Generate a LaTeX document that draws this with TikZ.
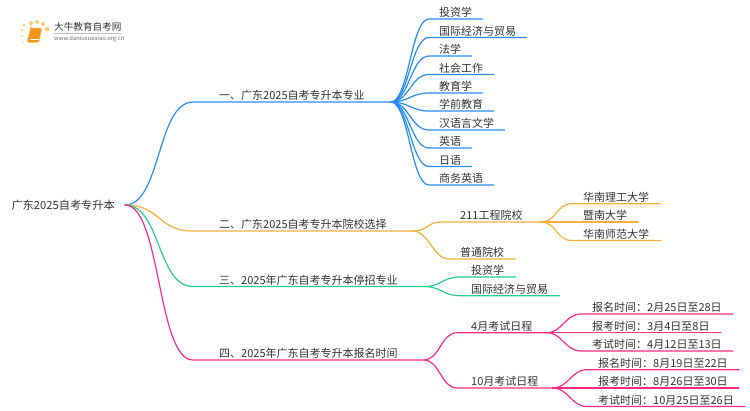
\documentclass[tikz,border=0pt]{standalone}
\usepackage{fontspec}
\setmainfont{Noto Sans CJK SC}
\usepackage{tikz}
\definecolor{Ink}{RGB}{51, 51, 51}
\definecolor{Blue}{RGB}{41, 140, 245}
\definecolor{Amber}{RGB}{245, 176, 60}
\definecolor{Jade}{RGB}{40, 205, 135}
\definecolor{Rose}{RGB}{250, 45, 130}
\definecolor{Sun}{RGB}{250, 205, 110}
\definecolor{Cover}{RGB}{240, 150, 30}
\tikzset{
    topic/.style={anchor=south west, inner xsep=#1, inner ysep=1.2pt, font=\fontsize{11}{13}\selectfont, text=Ink},
    link/.style={line width=1.2pt, line cap=round},
    sunray/.style={circle, fill=Sun, inner sep=0pt, minimum size=#1}
}

\begin{document}
\begin{tikzpicture}[x=1pt, y=-1pt]
    \useasboundingbox (0,0) rectangle (750,410);

    % logo
    \foreach \n/\x/\y/\s in {a/24/25/3pt, b/31/23/4pt, c/37/22/4pt, d/43/24/4pt, e/47/29/4.5pt, f/22/30/2.5pt, g/22/36/2pt, h/23/42/1.5pt}
    {
    \node[sunray=\s] (sun\n) at (\x,\y) {};
    }
    \draw[fill=Cover, draw=Sun, rounded corners=1.5pt, line width=0.8pt] (30.5,28) to (42,28) to (39,42.5) to (27,42.5) to cycle;
    \draw[white, line width=0.5pt] (30,39.5) to (38.5,39.5);
    \node[anchor=west, inner sep=0pt, font=\fontsize{9.6}{11}\selectfont, text=Ink] (logoname) at (54,27) {大牛教育自考网};
    \draw[black!25, line width=0.5pt] (54,33.5) to (121,33.5);
    \node[anchor=west, inner sep=0pt, font=\fontsize{5.8}{7}\selectfont, text=black!60] (logourl) at (54,39) {www.daniuxuexiao.org.cn};

    % root
    \node[anchor=east, inner xsep=10pt, inner ysep=0pt, font=\fontsize{11.2}{13}\selectfont, text=Ink] (root) at (125,205) {广东2025自考专升本};

    % branches
    \foreach \n/\y/\c/\t in {one/102/Blue/一、广东2025自考专升本专业, two/231/Amber/二、广东2025自考专升本院校选择, three/286.5/Jade/三、2025年广东自考专升本停招专业, four/360/Rose/四、2025年广东自考专升本报名时间}
    {
    \node[topic=26pt] (\n) at (193,\y) {\t};
    \draw[link, \c] (root.east) .. controls +(36,0) and +(-36,0) .. (\n.south west) to (\n.south east);
    }

    % majors
    \foreach \n/\y/\t in {m1/19/投资学, m2/37.5/国际经济与贸易, m3/56/法学, m4/74.5/社会工作, m5/93/教育学, m6/111/学前教育, m7/130/汉语言文学, m8/148/英语, m9/166.5/日语, m10/185/商务英语}
    {
    \node[topic=10pt] (\n) at (429,\y) {\t};
    \draw[link, Blue] (one.south east) .. controls +(18,0) and +(-18,0) .. (\n.south west) to (\n.south east);
    }

    % colleges
    \node[topic=18pt] (gc) at (442,222) {211工程院校};
    \node[topic=11pt] (pt) at (449,259) {普通院校};
    \foreach \n in {gc,pt}
    {
    \draw[link, Amber] (two.south east) .. controls +(16,0) and +(-16,0) .. (\n.south west) to (\n.south east);
    }
    \foreach \n/\y/\t in {u1/203.7/华南理工大学, u2/222/暨南大学, u3/240.5/华南师范大学}
    {
    \node[topic=11pt] (\n) at (572,\y) {\t};
    \draw[link, Amber] (gc.south east) .. controls +(16,0) and +(-16,0) .. (\n.south west) to (\n.south east);
    }

    % stopped
    \foreach \n/\y/\t in {s1/277/投资学, s2/295.7/国际经济与贸易}
    {
    \node[topic=11pt] (\n) at (460,\y) {\t};
    \draw[link, Jade] (three.south east) .. controls +(18,0) and +(-18,0) .. (\n.south west) to (\n.south east);
    }

    % dates
    \foreach \n/\y/\t in {apr/332.7/4月考试日程, oct/388/10月考试日程}
    {
    \node[topic=14pt] (\n) at (457,\y) {\t};
    \draw[link, Rose] (four.south east) .. controls +(16,0) and +(-16,0) .. (\n.south west) to (\n.south east);
    }
    \foreach \n/\y/\t in {a1/314/报名时间：2月25日至28日, a2/332.7/报考时间：3月4日至8日, a3/351/考试时间：4月12日至13日}
    {
    \node[topic=11pt] (\n) at (581,\y) {\t};
    \draw[link, Rose] (apr.south east) .. controls +(16,0) and +(-16,0) .. (\n.south west) to (\n.south east);
    }
    \foreach \n/\y/\t in {o1/369.7/报名时间：8月19日至22日, o2/388/报考时间：8月26日至30日, o3/406.5/考试时间：10月25日至26日}
    {
    \node[topic=11pt] (\n) at (587,\y) {\t};
    \draw[link, Rose] (oct.south east) .. controls +(16,0) and +(-16,0) .. (\n.south west) to (\n.south east);
    }
\end{tikzpicture}
\end{document}
